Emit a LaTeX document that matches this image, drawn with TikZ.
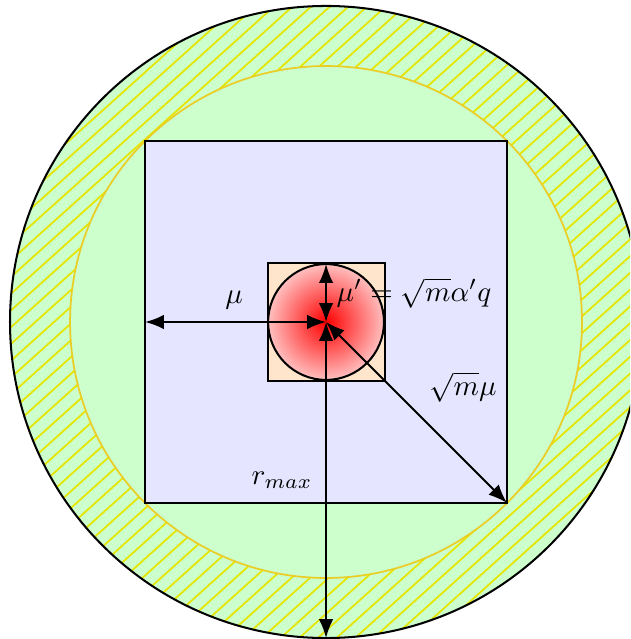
\documentclass[tikz,border=0pt]{standalone}
\usepackage{amsmath, amssymb}
\usetikzlibrary{arrows.meta, patterns.meta}
\definecolor{ringline}{RGB}{235,205,40}

\begin{document}
\begin{tikzpicture}[scale=0.7315, >={Latex[length=6.5pt,width=5pt]}, line width=0.7pt]
  \useasboundingbox (-5.404,-5.254) rectangle (5.039,5.337);
  \clip (-5.404,-5.254) rectangle (5.039,5.337);

  % Coordinates
  \coordinate (O) at (0, 0);
  \coordinate (L) at (-3, 0);
  \coordinate (T) at (0, 0.96);
  \coordinate (C) at (3, -3);
  \coordinate (B) at (0, -5.238);

  % Outer hatched ring
  \fill[green!20] (O) circle (5.238);
  \fill[pattern={Lines[angle=42, distance=4.3pt, line width=0.6pt]},
    pattern color=yellow!90!black] (O) circle (5.238);
  \draw (O) circle (5.238);

  % Inner disc through the corners of the square
  \draw[fill=green!20, draw=ringline, semithick] (O) circle ({3*sqrt(2)});

  % Square and small square
  \draw[fill=blue!10] (-3, -3) rectangle (3, 3);
  \fill[orange!20] (-0.97, -0.97) rectangle (0.97, 0.97);

  % Shaded disc
  \shade[inner color=red, outer color=red!25] (O) circle (0.96);
  \draw (O) circle (0.96);
  \draw (-0.97, -0.97) rectangle (0.97, 0.97);

  % Arrows from the centre
  \draw[<->] (O) -- (L);
  \draw[<->] (O) -- (T);
  \draw[<->] (O) -- (C);
  \draw[<->] (O) -- (B);

  % Labels
  \node (mu) at (-1.525, 0.365) {$\mu$};
  \node[right] (mup) at (0, 0.48) {$\mu' = \sqrt{m}\alpha' q$};
  \node (smu) at (2.27, -1.08) {$\sqrt{m}\mu$};
  \node (rmax) at (-0.73, -2.62) {$r_{max}$};
\end{tikzpicture}
\end{document}
